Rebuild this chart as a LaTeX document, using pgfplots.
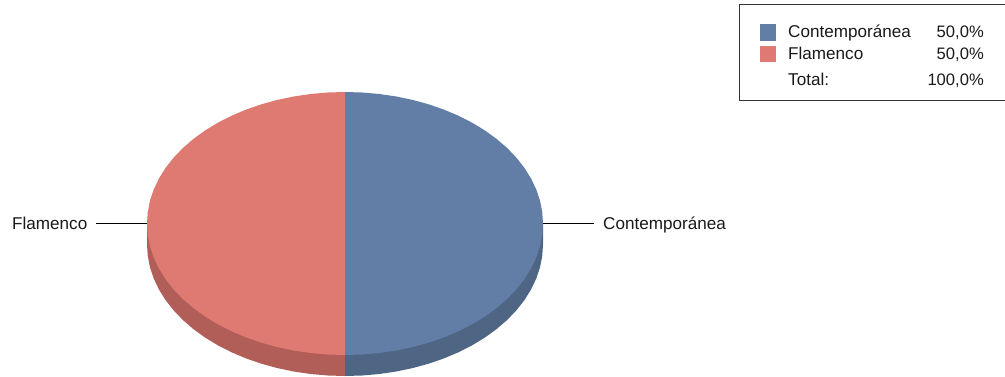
\documentclass[border=0pt]{standalone}
\usepackage{pgfplots}
\usepackage{pgfplotstable}
\usepackage{fontspec}
\setmainfont{Liberation Sans}
\pgfplotsset{compat=1.18}
\definecolor{bluetop}{HTML}{627DA6}
\definecolor{redtop}{HTML}{DE7A72}
\definecolor{blueside}{HTML}{4F6584}
\definecolor{redside}{HTML}{B15E58}
\tikzset{lab/.style={font=\fontsize{17.1}{20}\selectfont, inner sep=0pt, text=black!90},
  pct/.style={font=\fontsize{16.6}{20}\selectfont, inner sep=0pt, text=black!90}}
\pgfplotstableread{
x y
345 223.5
345 92
362.26 92.5
379.38 94
396.25 96.48
412.72 99.93
428.68 104.32
444 109.62
458.57 115.78
472.27 122.77
485 130.52
496.68 138.97
507.19 148.07
516.47 157.75
524.45 167.93
531.06 178.52
536.25 189.46
539.99 200.66
542.25 212.04
543 223.5
542.25 234.96
539.99 246.34
536.25 257.54
531.06 268.48
524.45 279.07
516.47 289.25
507.19 298.93
496.68 308.03
485 316.48
472.27 324.23
458.57 331.22
444 337.38
428.68 342.68
412.72 347.07
396.25 350.52
379.38 353
362.26 354.5
345 355
}\bluetoptable
\pgfplotstableread{
x y
345 223.5
345 92
327.74 92.5
310.62 94
293.75 96.48
277.28 99.93
261.32 104.32
246 109.62
231.43 115.78
217.73 122.77
205 130.52
193.32 138.97
182.81 148.07
173.53 157.75
165.55 167.93
158.94 178.52
153.75 189.46
150.01 200.66
147.75 212.04
147 223.5
147.75 234.96
150.01 246.34
153.75 257.54
158.94 268.48
165.55 279.07
173.53 289.25
182.81 298.93
193.32 308.03
205 316.48
217.73 324.23
231.43 331.22
246 337.38
261.32 342.68
277.28 347.07
293.75 350.52
310.62 353
327.74 354.5
345 355
}\redtoptable
\pgfplotstableread{
x y
345 223.5
543 223.5
543 244.5
542.25 255.96
539.99 267.34
536.25 278.54
531.06 289.48
524.45 300.07
516.47 310.25
507.19 319.93
496.68 329.03
485 337.48
472.27 345.23
458.57 352.22
444 358.38
428.68 363.68
412.72 368.07
396.25 371.52
379.38 374
362.26 375.5
345 376
}\bluesidetable
\pgfplotstableread{
x y
345 223.5
147 223.5
147 244.5
147.75 255.96
150.01 267.34
153.75 278.54
158.94 289.48
165.55 300.07
173.53 310.25
182.81 319.93
193.32 329.03
205 337.48
217.73 345.23
231.43 352.22
246 358.38
261.32 363.68
277.28 368.07
293.75 371.52
310.62 374
327.74 375.5
345 376
}\redsidetable
\begin{document}
\begin{tikzpicture}
\begin{axis}[
  scale only axis, width=1005pt, height=376pt,
  xmin=0, xmax=1005, ymin=0, ymax=376, y dir=reverse,
  hide axis, clip=false,
]
\path (axis cs:0,0) (axis cs:1005,376);
\addplot[fill=redside, draw=none] table {\redsidetable};
\addplot[fill=blueside, draw=none] table {\bluesidetable};
\addplot[fill=redtop, draw=none] table {\redtoptable};
\addplot[fill=bluetop, draw=none] table {\bluetoptable};
% leaders
\addplot[black, line width=1pt] coordinates {(96,223.5) (147,223.5)};
\addplot[black, line width=1pt] coordinates {(543,223.5) (594,223.5)};
\node[lab, anchor=base east] at (axis cs:87.5,229) {Flamenco};
\node[lab, anchor=base west] at (axis cs:603,229) {Contemporánea};
% legend
\draw[black!80, line width=1pt] (axis cs:1004.5,4.5) -- (axis cs:739,4.5) -- (axis cs:739,100.5) -- (axis cs:1004.5,100.5);
\fill[bluetop] (axis cs:760,24) rectangle (axis cs:776,41);
\fill[redtop] (axis cs:760,46) rectangle (axis cs:776,62);
\node[lab, anchor=base west] at (axis cs:788,37) {Contemporánea};
\node[lab, anchor=base west] at (axis cs:788,59) {Flamenco};
\node[lab, anchor=base west] at (axis cs:788,85) {Total:};
\node[pct, anchor=base east] at (axis cs:984,37) {50,0\%};
\node[pct, anchor=base east] at (axis cs:984,59) {50,0\%};
\node[pct, anchor=base east] at (axis cs:984,85) {100,0\%};
\end{axis}
\end{tikzpicture}
\end{document}
